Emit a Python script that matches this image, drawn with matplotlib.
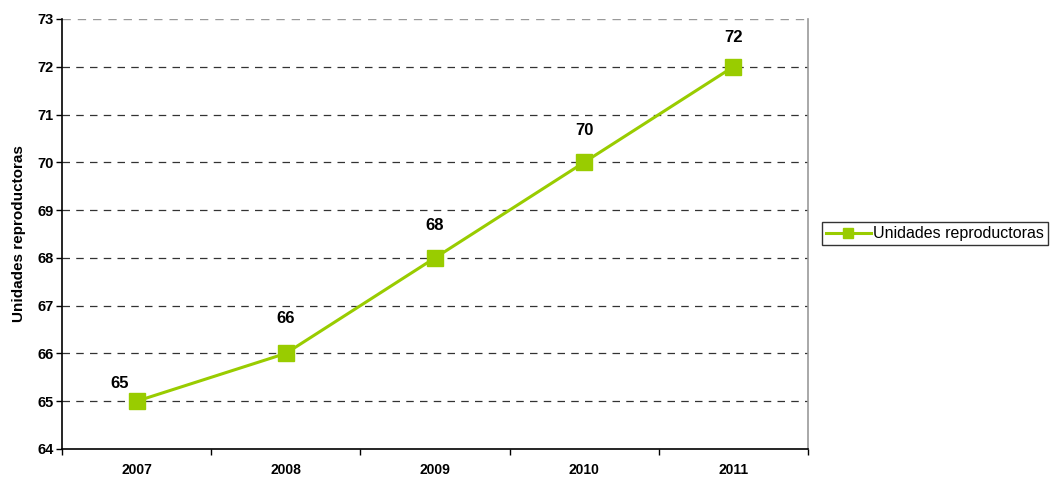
import matplotlib.pyplot as plt
import numpy as np

plt.rcParams['font.family'] = ['Liberation Sans', 'DejaVu Sans']

anios = ['2007', '2008', '2009', '2010', '2011']
unidades = [65, 66, 68, 70, 72]
serie = 'Unidades reproductoras'
verde = '#99CC00'

fig = plt.figure(figsize=(10.54, 4.78), dpi=100)
ax = fig.add_axes([0.0588, 0.0607, 0.7078, 0.8996])

x = np.arange(len(anios))
ax.plot(x, unidades, '-s', color=verde, linewidth=2.2, markersize=11.5,
        label=serie, zorder=5)

# etiquetas de datos (la primera desplazada como en el original)
desplazamientos = [(-12, 13), (0, 25), (0, 23), (0, 23), (0, 21)]
for xi, v, (dx, dy) in zip(x, unidades, desplazamientos):
    ax.annotate(f'{v}', (xi, v), xytext=(dx, dy), textcoords='offset points',
                ha='center', va='center', fontsize=12, fontweight='bold')

ax.set_xlim(-0.5, len(anios) - 0.5)
ax.set_ylim(64, 73)
ax.set_yticks(range(64, 74))
ax.set_yticklabels([str(v) for v in range(64, 74)], fontsize=10.5, fontweight='bold')
ax.set_xticks(x)
ax.set_xticklabels(anios, fontsize=10, fontweight='bold')
ax.set_xticks(np.arange(-0.5, len(anios)), minor=True)
ax.tick_params(axis='x', which='major', length=0, pad=10)
ax.tick_params(axis='x', which='minor', length=4, direction='out', width=1)
ax.tick_params(axis='y', length=4, direction='out', width=1, pad=2)

for v in range(65, 73):
    ax.axhline(v, color='#333333', linestyle=(0, (6, 5)), linewidth=0.9, zorder=1)
ax.axhline(73, color='#999999', linestyle=(0, (6, 5)), linewidth=1.0, zorder=1)

ax.spines['left'].set_linewidth(1.2)
ax.spines['bottom'].set_linewidth(1.2)
ax.spines['top'].set_visible(False)
ax.spines['right'].set_color('#999999')
ax.spines['right'].set_linewidth(1.2)

ax.set_ylabel(serie, fontsize=11, fontweight='bold', labelpad=8)

leg = ax.legend(loc='center left', bbox_to_anchor=(1.0188, 0.5), fontsize=11.5,
                frameon=True, fancybox=False, edgecolor='black', handlelength=2.8,
                markerscale=0.6, borderpad=0.25, handletextpad=0.15,
                borderaxespad=0)
leg.get_frame().set_linewidth(1.0)

fig.savefig('out.png', dpi=100)
